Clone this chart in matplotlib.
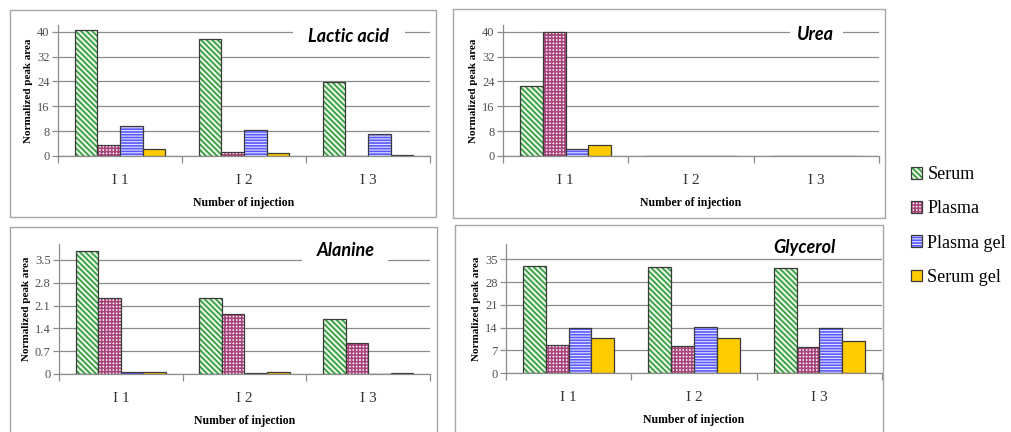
import matplotlib
matplotlib.use("Agg")
import matplotlib.pyplot as plt
from matplotlib.patches import Rectangle
from matplotlib.legend_handler import HandlerTuple
import numpy as np

injections = ["I 1", "I 2", "I 3"]
series = ["Serum", "Plasma", "Plasma gel", "Serum gel"]

# normalized peak areas per injection (I1, I2, I3)
lactic_serum = [40.7, 37.8, 23.9]
lactic_plasma = [3.4, 1.3, 0.0]
lactic_plasma_gel = [9.6, 8.5, 7.0]
lactic_serum_gel = [2.4, 1.0, 0.2]

urea_serum = [22.5, 0.0, 0.0]
urea_plasma = [39.9, 0.0, 0.0]
urea_plasma_gel = [2.4, 0.0, 0.0]
urea_serum_gel = [3.4, 0.0, 0.0]

alanine_serum = [3.76, 2.34, 1.69]
alanine_plasma = [2.32, 1.84, 0.96]
alanine_plasma_gel = [0.07, 0.02, 0.0]
alanine_serum_gel = [0.07, 0.06, 0.02]

glycerol_serum = [33.0, 32.5, 32.2]
glycerol_plasma = [8.5, 8.3, 7.9]
glycerol_plasma_gel = [13.8, 14.1, 13.8]
glycerol_serum_gel = [10.9, 10.9, 10.0]

lactic_ticks = [0, 8, 16, 24, 32, 40]
urea_ticks = [0, 8, 16, 24, 32, 40]
alanine_ticks = [0, 0.7, 1.4, 2.1, 2.8, 3.5]
glycerol_ticks = [0, 7, 14, 21, 28, 35]

W, H = 1011, 432
SERIF = "Liberation Serif"

# hatch pattern, hatch colour, face colour per series
styles = [
    ("\\\\\\\\\\\\", "#2f9a3a", "#e6f4e3"),
    ("+++++", "#a8457a", "white"),
    ("------", "#5a5aff", "#e4e4ff"),
    (None, "#ffcc00", "#ffcc00"),
]

plt.rcParams["hatch.linewidth"] = 1.2

fig = plt.figure(figsize=(W / 100, H / 100), dpi=100)


def fx(px):
    return px / W


def fy(py):
    return 1 - py / H


def panel_box(x0, y0, x1, y1):
    fig.patches.append(Rectangle((fx(x0), fy(y1)), (x1 - x0) / W, (y1 - y0) / H,
                                 transform=fig.transFigure, fill=False,
                                 edgecolor="#a6a6a6", linewidth=1.0, zorder=0))


def draw_panel(rect, data, ticks, tick_labels, ylim, title, title_xy, gap):
    x0, y_top, x1, y_bot = rect
    ax = fig.add_axes([fx(x0), fy(y_bot), (x1 - x0) / W, (y_bot - y_top) / H])
    ax.set_axisbelow(True)
    centers = np.arange(len(injections)) + 0.5
    w = 0.182
    for k, vals in enumerate(data):
        hatch, hcol, face = styles[k]
        xs = centers + (k - 1.5) * w
        ax.bar(xs, vals, w, color=face, edgecolor=hcol, hatch=hatch, linewidth=0)
        ax.bar(xs, vals, w, fill=False, edgecolor="#3a3a3a", linewidth=0.9)
    ax.set_xlim(0, len(injections))
    ax.set_ylim(0, ylim)
    ax.set_yticks(ticks)
    ax.set_yticklabels(tick_labels, fontfamily=SERIF, fontsize=9, color="#505050")
    ax.yaxis.grid(True, color="#8c8c8c", linewidth=0.9)
    ax.set_xticks(np.arange(len(injections) + 1))
    ax.set_xticklabels([])
    ax.set_xticks(centers, minor=True)
    ax.set_xticklabels(injections, minor=True, fontfamily=SERIF, fontsize=11,
                       color="#333333")
    ax.tick_params(axis="x", which="major", length=5, color="#8c8c8c", width=0.9)
    ax.tick_params(axis="x", which="minor", length=0, pad=13)
    ax.tick_params(axis="y", length=4, color="#8c8c8c", width=0.9, pad=2)
    for side in ("top", "right"):
        ax.spines[side].set_visible(False)
    for side in ("left", "bottom"):
        ax.spines[side].set_color("#8c8c8c")
        ax.spines[side].set_linewidth(0.9)
    ax.set_xlabel("Number of injection", fontfamily=SERIF, fontsize=8.5,
                  fontweight="bold", labelpad=7)
    ax.set_ylabel("Normalized peak area", fontfamily=SERIF, fontsize=8,
                  fontweight="bold", labelpad=3)
    if gap is not None:
        gx0, gy0, gx1, gy1 = gap
        fig.patches.append(Rectangle((fx(gx0), fy(gy1)), (gx1 - gx0) / W,
                                     (gy1 - gy0) / H, transform=fig.transFigure,
                                     facecolor="white", edgecolor="none", zorder=2))
    fig.text(fx(title_xy[0]), fy(title_xy[1]), title, ha="center", va="center",
             fontfamily="Lato", fontweight="bold", fontstyle="italic",
             fontsize=13, zorder=3)
    return ax


panel_box(10, 10, 436, 217)
panel_box(453, 9, 885, 218)
panel_box(10, 227, 437, 445)
panel_box(455, 225, 883, 445)

draw_panel((58, 25, 430, 156),
           [lactic_serum, lactic_plasma, lactic_plasma_gel, lactic_serum_gel],
           lactic_ticks, [str(t) for t in lactic_ticks], 42.2,
           "Lactic acid", (349, 37), (293, 27, 405, 47))
draw_panel((503, 25, 879, 156),
           [urea_serum, urea_plasma, urea_plasma_gel, urea_serum_gel],
           urea_ticks, [str(t) for t in urea_ticks], 42.2,
           "Urea", (815, 34), (790, 26, 843, 44))
draw_panel((59, 244, 430, 374),
           [alanine_serum, alanine_plasma, alanine_plasma_gel, alanine_serum_gel],
           alanine_ticks, ["0", "0.7", "1.4", "2.1", "2.8", "3.5"], 3.99,
           "Alanine", (346, 250), (302, 244, 388, 266))
draw_panel((506, 244, 882, 373),
           [glycerol_serum, glycerol_plasma, glycerol_plasma_gel, glycerol_serum_gel],
           glycerol_ticks, [str(t) for t in glycerol_ticks], 39.7,
           "Glycerol", (804, 247), None)

# legend keys: patterned square with a dark outline on top
handles = []
for hatch, hcol, face in styles:
    fill = Rectangle((0, 0), 1, 1, facecolor=face, edgecolor=hcol,
                     hatch=hatch, linewidth=0)
    border = Rectangle((0, 0), 1, 1, fill=False, edgecolor="#3a3a3a",
                       linewidth=0.9)
    handles.append((fill, border))
fig.legend(handles, series, loc="upper left",
           bbox_to_anchor=(fx(904), fy(159)), frameon=False,
           prop={"family": SERIF, "size": 13},
           handler_map={tuple: HandlerTuple(ndivide=1, pad=0)},
           handlelength=0.6, handleheight=0.6, handletextpad=0.3,
           labelspacing=0.95, borderaxespad=0)

fig.savefig("out.png", dpi=100)
plt.close(fig)
